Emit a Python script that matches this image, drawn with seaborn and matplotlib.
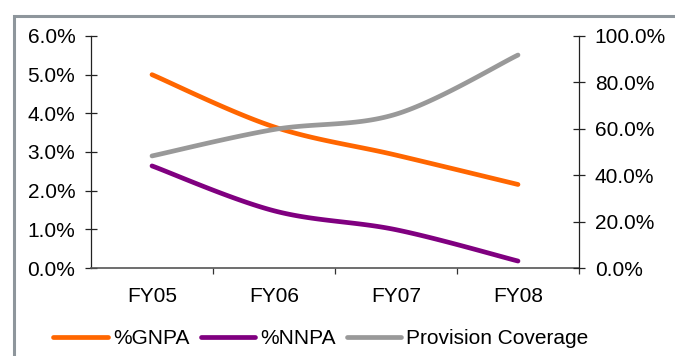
import numpy as np
import pandas as pd
import matplotlib
matplotlib.use("Agg")
import matplotlib.pyplot as plt
import seaborn as sns
from matplotlib.lines import Line2D
from matplotlib.patches import Rectangle
from matplotlib.ticker import FuncFormatter, FixedLocator

# ---- data ----
years = ["FY05", "FY06", "FY07", "FY08"]
gnpa = [5.0, 3.65, 2.92, 2.16]            # % of advances
nnpa = [2.64, 1.48, 0.99, 0.18]           # % of advances
provision_coverage = [48.3, 59.7, 66.3, 91.8]  # %

left_ticks = [0.0, 1.0, 2.0, 3.0, 4.0, 5.0, 6.0]
right_ticks = [0.0, 20.0, 40.0, 60.0, 80.0, 100.0]

sns.set_theme(style="white")
plt.rcParams["font.family"] = ["Liberation Sans", "DejaVu Sans"]
plt.rcParams["text.color"] = "black"
plt.rcParams["xtick.color"] = "black"
plt.rcParams["ytick.color"] = "black"
FS = 15


def smooth(xv, yv, n=40):
    """Smoothed curve through the points (Catmull-Rom style Bezier segments)."""
    P = np.column_stack([xv, yv]).astype(float)
    out = []
    for i in range(len(P) - 1):
        p0 = P[i - 1] if i > 0 else P[i]
        p1, p2 = P[i], P[i + 1]
        p3 = P[i + 2] if i + 2 < len(P) else P[i + 1]
        c1 = p1 + (p2 - p0) / 6.0
        c2 = p2 - (p3 - p1) / 6.0
        t = np.linspace(0, 1, n)[:, None]
        seg = ((1 - t) ** 3) * p1 + 3 * ((1 - t) ** 2) * t * c1 + 3 * (1 - t) * t ** 2 * c2 + t ** 3 * p2
        out.append(seg if i == 0 else seg[1:])
    s = np.vstack(out)
    return s[:, 0], s[:, 1]


fig = plt.figure(figsize=(6.75, 3.56), dpi=100)
ax = fig.add_axes([91 / 675, 1 - 268 / 356, (579 - 91) / 675, (268 - 36) / 356])
ax2 = ax.twinx()

xpos = np.arange(len(years))
ORANGE, PURPLE, GREY = "#FF6600", "#800080", "#999999"
LW = 3.4

for vals, col, a in [(gnpa, ORANGE, ax), (nnpa, PURPLE, ax), (provision_coverage, GREY, ax2)]:
    sx, sy = smooth(xpos, vals)
    df = pd.DataFrame({"x": sx, "y": sy})
    sns.lineplot(data=df, x="x", y="y", ax=a, color=col, lw=LW, sort=False,
                 estimator=None, solid_capstyle="round", legend=False)

ax.set_xlim(-0.5, len(years) - 0.5)
ax.set_ylim(0, 6)
ax2.set_ylim(0, 100)

ax.set_yticks(left_ticks)
ax.yaxis.set_major_formatter(FuncFormatter(lambda v, p: f"{v:.1f}%"))
ax2.set_yticks(right_ticks)
ax2.yaxis.set_major_formatter(FuncFormatter(lambda v, p: f"{v:.1f}%"))

ax.set_xticks(xpos)
ax.set_xticklabels(years)
ax.xaxis.set_minor_locator(FixedLocator(np.arange(len(years)) + 0.5))
ax.tick_params(axis="x", which="major", length=0, pad=14, labelsize=FS, labelcolor="black")
ax.tick_params(axis="x", which="minor", direction="out", length=4.5, width=0.9,
               color="#333333", bottom=True)
ax.tick_params(axis="y", direction="inout", length=8.5, width=0.9, color="#222222",
               labelsize=FS, pad=7, left=True, labelcolor="black")
ax2.tick_params(axis="y", direction="inout", length=8.5, width=0.9, color="#222222",
                labelsize=FS, pad=7, right=True, labelcolor="black")

for a in (ax, ax2):
    a.set_xlabel("")
    a.set_ylabel("")
    a.grid(False)
    a.spines["top"].set_visible(False)
    a.patch.set_visible(False)
ax.spines["left"].set_color("#222222")
ax.spines["left"].set_linewidth(0.9)
ax.spines["right"].set_visible(False)
ax.spines["bottom"].set_color("#555555")
ax.spines["bottom"].set_linewidth(1.2)
ax2.spines["left"].set_visible(False)
ax2.spines["bottom"].set_visible(False)
ax2.spines["right"].set_color("#222222")
ax2.spines["right"].set_linewidth(0.9)

# legend along the bottom
handles = [Line2D([], [], color=c, lw=LW, solid_capstyle="round") for c in (ORANGE, PURPLE, GREY)]
fig.legend(handles, ["%GNPA", "%NNPA", "Provision Coverage"], loc="center",
           bbox_to_anchor=(321 / 675, 1 - 339 / 356), ncol=3, frameon=False,
           fontsize=FS, handlelength=2.6, handletextpad=0.25, columnspacing=0.55,
           borderaxespad=0, borderpad=0)

# chart frame (continues past the right and bottom edges)
frame_top = 1 - 15.5 / 356
fig.patches.append(Rectangle((13.5 / 675, -0.2), 1.2, frame_top + 0.2,
                             transform=fig.transFigure, fill=False,
                             edgecolor="#8E969C", lw=2.2, zorder=0))

fig.savefig("out.png", dpi=100, facecolor="white")
